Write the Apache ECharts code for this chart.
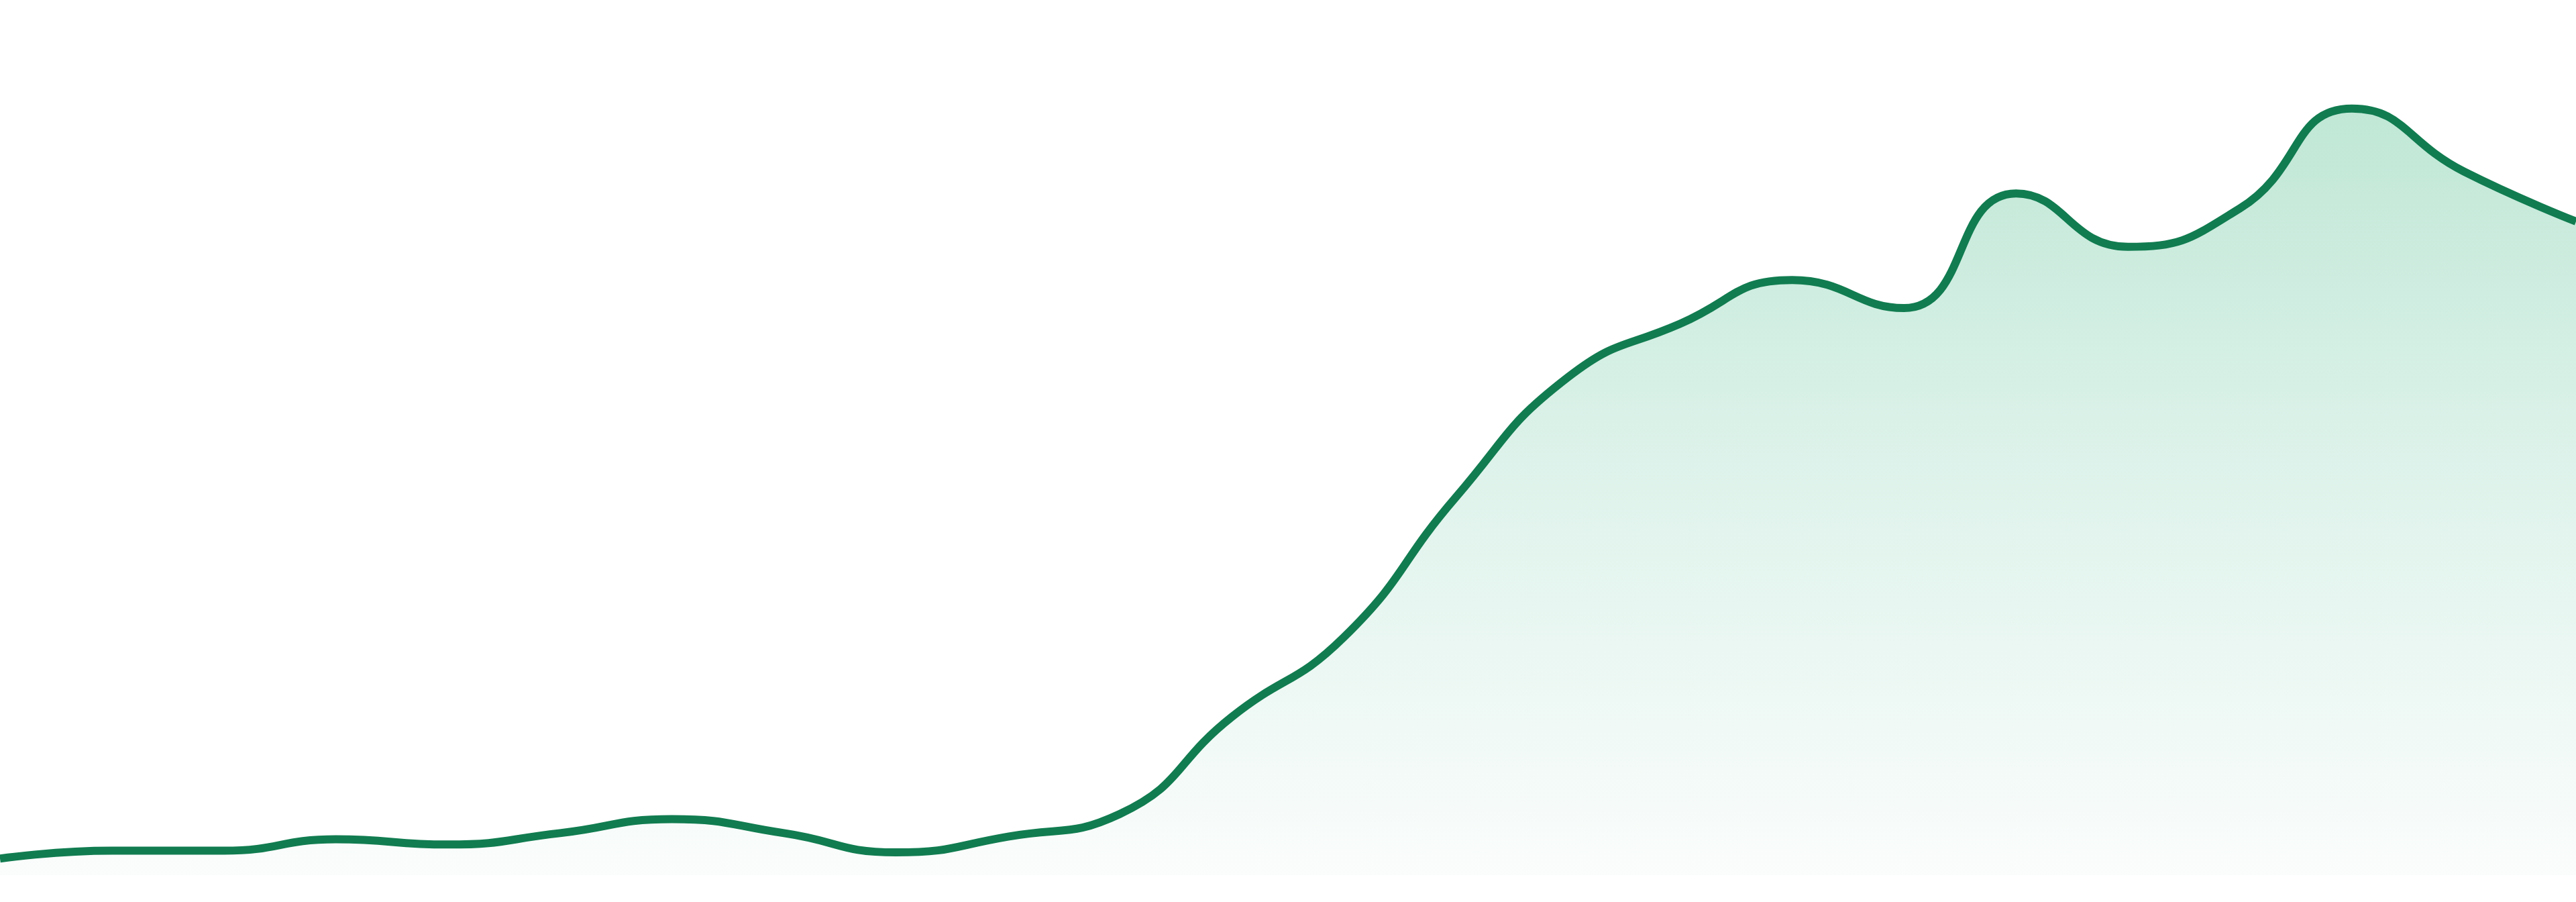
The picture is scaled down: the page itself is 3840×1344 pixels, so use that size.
<!DOCTYPE html>
<html>
<head>
<meta charset="utf-8">
<title>Area trend</title>
<script src="https://cdn.jsdelivr.net/npm/echarts@6/dist/echarts.min.js"></script>
<style>
  html, body { margin: 0; padding: 0; background: #ffffff; }
  #chart { width: 3840px; height: 1344px; }
</style>
</head>
<body>
<div id="chart"></div>
<script>
// 24 evenly spaced samples
const categories = [
  'P01', 'P02', 'P03', 'P04', 'P05', 'P06', 'P07', 'P08',
  'P09', 'P10', 'P11', 'P12', 'P13', 'P14', 'P15', 'P16',
  'P17', 'P18', 'P19', 'P20', 'P21', 'P22', 'P23', 'P24'
];
const values = [
  1.9, 2.8, 2.8, 4.1, 3.5, 4.8, 6.4, 4.8,
  2.6, 4.4, 7.0, 18.1, 27.2, 43.2, 56.9, 63.0,
  68.0, 64.8, 77.9, 71.8, 76.2, 87.6, 80.4, 74.7
];
const yMin = 0;
const yMax = 100;

const lineColor = '#117c50';

const chart = echarts.init(document.getElementById('chart'));

chart.setOption({
  animation: false,
  grid: { left: 0, right: 0, top: 0, bottom: 40 },
  xAxis: {
    type: 'category',
    data: categories,
    boundaryGap: false,
    show: false
  },
  yAxis: {
    type: 'value',
    min: yMin,
    max: yMax,
    show: false
  },
  series: [
    {
      type: 'line',
      data: values,
      smooth: true,
      showSymbol: false,
      lineStyle: { color: lineColor, width: 12 },
      areaStyle: {
        color: new echarts.graphic.LinearGradient(0, 0, 0, 1, [
          { offset: 0, color: '#a4dcc3' },
          { offset: 0.45, color: '#cdece0' },
          { offset: 1, color: '#f8fbfa' }
        ])
      }
    }
  ]
});

window.addEventListener('resize', () => chart.resize());
</script>
</body>
</html>
